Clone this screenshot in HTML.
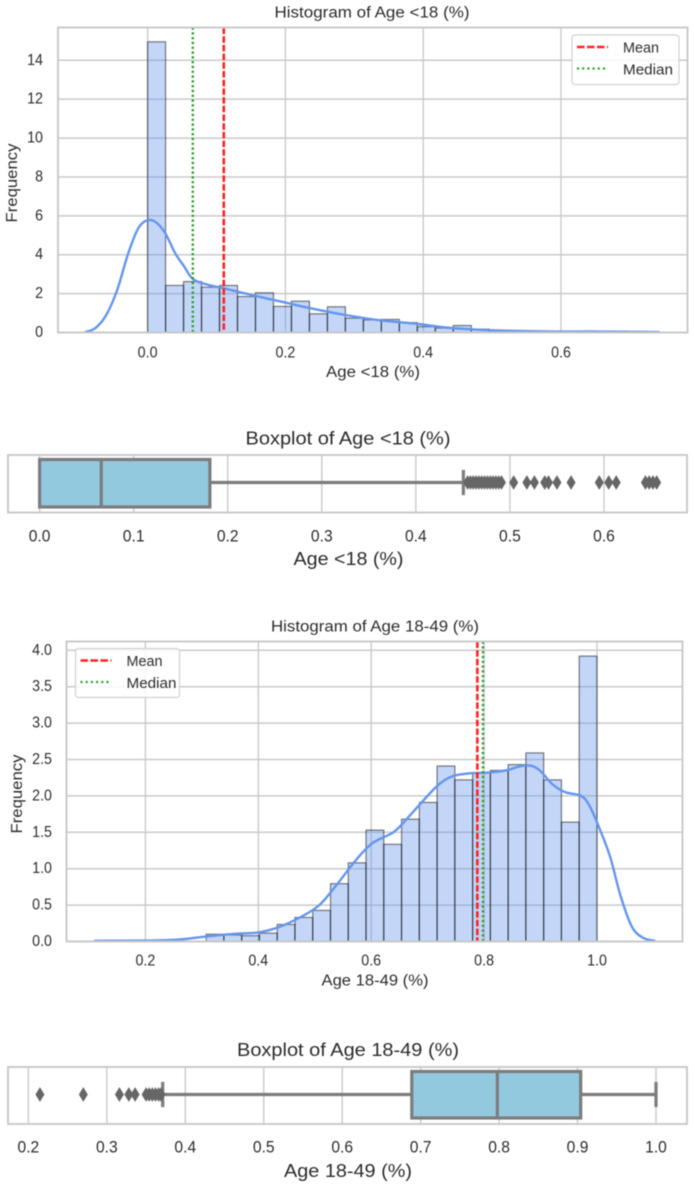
<!DOCTYPE html>
<html lang="en">
<head>
<meta charset="utf-8">
<title>Age distribution charts</title>
<style>
html,body{margin:0;padding:0;background:#fff;}
svg{display:block;filter:blur(0.6px);font-family:"Liberation Sans",sans-serif;}
text{fill:#2b2b2b;}
</style>
</head>
<body>
<svg id="figure" xmlns="http://www.w3.org/2000/svg" width="694" height="1184" viewBox="0 0 694 1184"></svg>
<script>
// ---------- Histogram of Age <18 (%) ----------
const hist1Heights = [14.95,2.42,2.62,2.33,2.42,1.85,2.04,1.34,1.61,0.96,1.32,0.74,0.65,0.67,0.51,0.30,0.23,0.36,0.17,0.05,0.03,0.05,0.04,0.03,0.05];
const hist1BinStart = 0.0;
const hist1BinWidth = 0.0261;
const hist1KdeX = [-0.0907,-0.076,-0.06,-0.044,-0.028,-0.012,0.006,0.024,0.04,0.053,0.066,0.088,0.11,0.14,0.172,0.2,0.236,0.287,0.339,0.39,0.429,0.467,0.513,0.59,0.654,0.743];
const hist1KdeY = [0.02,0.22,0.9,2.2,4.08,5.45,5.78,5.2,4.08,3.4,2.74,2.45,2.28,2.02,1.76,1.54,1.25,0.9,0.62,0.45,0.27,0.17,0.1,0.05,0.05,0.02];
const hist1XTicks = [0.0,0.2,0.4,0.6];
const hist1XTickLabels = ["0.0","0.2","0.4","0.6"];
const hist1YTicks = [0,2,4,6,8,10,12,14];
const hist1YTickLabels = ["0","2","4","6","8","10","12","14"];
const hist1Mean = 0.1106;
const hist1Median = 0.0656;

// ---------- Boxplot of Age <18 (%) ----------
const box1Stats = [0.0,0.0655,0.181,0.0,0.4505];
const box1Outliers = [0.455,0.458,0.461,0.464,0.467,0.470,0.473,0.476,0.479,0.482,0.485,0.488,0.491,0.504,0.518,0.526,0.537,0.541,0.55,0.565,0.595,0.605,0.613,0.644,0.648,0.652,0.656];
const box1Ticks = [0.0,0.1,0.2,0.3,0.4,0.5,0.6];
const box1TickLabels = ["0.0","0.1","0.2","0.3","0.4","0.5","0.6"];

// ---------- Histogram of Age 18-49 (%) ----------
const hist2Heights = [0.10,0.09,0.08,0.115,0.234,0.33,0.427,0.794,1.08,1.53,1.335,1.68,1.91,2.41,2.22,2.32,2.35,2.43,2.59,2.22,1.64,3.92];
const hist2BinStart = 0.3076;
const hist2BinWidth = 0.03147;
const hist2KdeX = [0.109,0.2,0.256,0.303,0.358,0.4,0.437,0.476,0.508,0.539,0.571,0.602,0.641,0.673,0.716,0.744,0.775,0.807,0.838,0.874,0.897,0.921,0.944,0.972,0.987,1.003,1.023,1.042,1.062,1.082,1.103];
const hist2KdeY = [0.01,0.012,0.025,0.065,0.105,0.125,0.2,0.34,0.5,0.78,1.1,1.35,1.51,1.77,2.13,2.27,2.31,2.32,2.35,2.42,2.36,2.16,2.05,2.0,1.86,1.58,1.17,0.62,0.2,0.05,0.01];
const hist2XTicks = [0.2,0.4,0.6,0.8,1.0];
const hist2XTickLabels = ["0.2","0.4","0.6","0.8","1.0"];
const hist2YTicks = [0,0.5,1,1.5,2,2.5,3,3.5,4];
const hist2YTickLabels = ["0.0","0.5","1.0","1.5","2.0","2.5","3.0","3.5","4.0"];
const hist2Mean = 0.788;
const hist2Median = 0.798;

// ---------- Boxplot of Age 18-49 (%) ----------
const box2Stats = [0.6887,0.7978,0.904,0.3712,1.0];
const box2Outliers = [0.2147,0.27,0.316,0.328,0.336,0.35,0.354,0.358,0.362,0.366,0.369];
const box2Ticks = [0.2,0.3,0.4,0.5,0.6,0.7,0.8,0.9,1.0];
const box2TickLabels = ["0.2","0.3","0.4","0.5","0.6","0.7","0.8","0.9","1.0"];

const NS = "http://www.w3.org/2000/svg";
const root = document.getElementById("figure");

function scale(d0, r0, d1, r1) {
  return function (v) { return r0 + (v - d0) * (r1 - r0) / (d1 - d0); };
}
function make(parent, tag, props) {
  const el = document.createElementNS(NS, tag);
  for (const k in props) el.setAttribute(k, props[k]);
  parent.appendChild(el);
  return el;
}
function label(parent, x, y, str, size, anchor, len) {
  const props = { x: x, y: y, "font-size": size, "text-anchor": anchor, "dominant-baseline": "central" };
  const t = make(parent, "text", props);
  t.textContent = str;
  const target = len || t.getComputedTextLength() * 0.92;
  t.setAttribute("textLength", target);
  t.setAttribute("lengthAdjust", "spacingAndGlyphs");
  return t;
}
function smoothPath(xs, ys) {
  let d = "M" + xs[0].toFixed(2) + " " + ys[0].toFixed(2);
  for (let i = 0; i < xs.length - 1; i++) {
    const a = Math.max(i - 1, 0), b = Math.min(i + 2, xs.length - 1);
    const c1x = xs[i] + (xs[i + 1] - xs[a]) / 6, c1y = ys[i] + (ys[i + 1] - ys[a]) / 6;
    const c2x = xs[i + 1] - (xs[b] - xs[i]) / 6, c2y = ys[i + 1] - (ys[b] - ys[i]) / 6;
    d += "C" + c1x.toFixed(2) + " " + c1y.toFixed(2) + " " + c2x.toFixed(2) + " " + c2y.toFixed(2) + " " + xs[i + 1].toFixed(2) + " " + ys[i + 1].toFixed(2);
  }
  return d;
}

function drawHistogram(o) {
  const g = make(root, "g", {});
  
  
  const f = o.frame;

  for (let i = 0; i < o.xTicks.length; i++) {
    const px = o.x(o.xTicks[i]);
    const l = make(g, "line", { x1: px, x2: px, y1: f.top, y2: f.bottom, stroke: "#cacaca", "stroke-width": 1.4 });
    
    
    const t = label(g, px, o.xTickY, o.xTickLabels[i], 15.5, "middle");
    
    
  }
  for (let i = 0; i < o.yTicks.length; i++) {
    const py = o.y(o.yTicks[i]);
    const l = make(g, "line", { x1: f.left, x2: f.right, y1: py, y2: py, stroke: "#cacaca", "stroke-width": 1.5 });
    
    
    const t = label(g, o.yTickRight, py, o.yTickLabels[i], 15.5, "end");
    
    
  }
  for (let i = 0; i < o.heights.length; i++) {
    const x0 = o.x(o.binStart + i * o.binWidth), x1 = o.x(o.binStart + (i + 1) * o.binWidth);
    const yT = o.y(o.heights[i]), yB = o.y(0);
    const r = make(g, "rect", { x: x0, y: yT, width: x1 - x0, height: yB - yT, fill: "#6495ed", "fill-opacity": 0.39, stroke: "#000", "stroke-opacity": 0.5, "stroke-width": 1.2 });
    
    
  }
  const kde = make(g, "path", { d: smoothPath(o.kdeX.map(o.x), o.kdeY.map(o.y)), fill: "none", stroke: "#6495ed", "stroke-width": 2.4 });
  
  

  const mean = make(g, "line", { x1: o.x(o.mean), x2: o.x(o.mean), y1: f.top, y2: f.bottom, stroke: "#ff2222", "stroke-width": 2.6, "stroke-dasharray": "6.5 2.2" });
  
  
  const median = make(g, "line", { x1: o.x(o.median), x2: o.x(o.median), y1: f.top, y2: f.bottom, stroke: "#22a022", "stroke-width": 2.4, "stroke-dasharray": "2.2 2.6" });
  
  

  const frame = make(g, "rect", { x: f.left, y: f.top, width: f.right - f.left, height: f.bottom - f.top, fill: "none", stroke: "#c8c8c8", "stroke-width": 1.9 });
  
  

  const title = label(g, o.titleX, o.titleY, o.title, 15.5, "middle", o.titleLen);
  
  
  const xt = label(g, o.xLabelX, o.xLabelY, o.xLabel, 15.5, "middle", o.xLabelLen);
  
  
  const yt = label(g, 0, 0, "Frequency", 15.5, "middle", 79);
  yt.setAttribute("transform", "translate(" + o.yLabelX + " " + o.yLabelY + ") rotate(-90)");
  
  

  const L = o.legend;
  const lg = make(g, "g", {});
  
  
  const bg = make(lg, "rect", { x: L.x, y: L.y, width: L.w, height: L.h, rx: 3, fill: "#fff", "fill-opacity": 0.8, stroke: "#d0d0d0", "stroke-width": 1.2 });
  
  
  const s1 = make(lg, "line", { x1: L.x + 5, x2: L.x + 36, y1: L.y + 12, y2: L.y + 12, stroke: "#ff2222", "stroke-width": 2.4, "stroke-dasharray": "7.5 2.5" });
  
  
  const t1 = label(lg, L.x + 51, L.y + 13, "Mean", 15, "start", 36);
  
  
  const s2 = make(lg, "line", { x1: L.x + 5, x2: L.x + 36, y1: L.y + 33.5, y2: L.y + 33.5, stroke: "#22a022", "stroke-width": 2.2, "stroke-dasharray": "2 3.2" });
  
  
  const t2 = label(lg, L.x + 51, L.y + 35, "Median", 15, "start", 50);
  
  
}

function drawBoxplot(o) {
  const g = make(root, "g", {});
  
  
  const f = o.frame;
  const GRAY = "#7c7c7c";
  for (let i = 0; i < o.ticks.length; i++) {
    const px = o.x(o.ticks[i]);
    const l = make(g, "line", { x1: px, x2: px, y1: f.top, y2: f.bottom, stroke: "#cacaca", "stroke-width": 1.4 });
    
    
    const t = label(g, px, o.tickY, o.tickLabels[i], 17, "middle");
    
    
  }
  const frame = make(g, "rect", { x: f.left, y: f.top, width: f.right - f.left, height: f.bottom - f.top, fill: "none", stroke: "#c8c8c8", "stroke-width": 1.9 });
  
  

  const q1 = o.x(o.stats[0]), med = o.x(o.stats[1]), q3 = o.x(o.stats[2]), lo = o.x(o.stats[3]), hi = o.x(o.stats[4]);
  const w1 = make(g, "line", { x1: lo, x2: q1, y1: o.midY, y2: o.midY, stroke: GRAY, "stroke-width": 3.2 });
  
  
  const w2 = make(g, "line", { x1: q3, x2: hi, y1: o.midY, y2: o.midY, stroke: GRAY, "stroke-width": 3.2 });
  
  
  const c1 = make(g, "line", { x1: lo, x2: lo, y1: o.midY - o.capH, y2: o.midY + o.capH, stroke: GRAY, "stroke-width": 3.2 });
  
  
  const c2 = make(g, "line", { x1: hi, x2: hi, y1: o.midY - o.capH, y2: o.midY + o.capH, stroke: GRAY, "stroke-width": 3.2 });
  
  
  const box = make(g, "rect", { x: q1, y: o.boxTop, width: q3 - q1, height: o.boxBottom - o.boxTop, fill: "#93c9df", stroke: GRAY, "stroke-width": 3.2 });
  
  
  const m = make(g, "line", { x1: med, x2: med, y1: o.boxTop, y2: o.boxBottom, stroke: GRAY, "stroke-width": 3.2 });
  
  
  for (const v of o.outliers) {
    const px = o.x(v);
    const pts = [[px, o.midY - 7.4], [px + 4.5, o.midY], [px, o.midY + 7.4], [px - 4.5, o.midY]].map(function (p) { return p.join(","); }).join(" ");
    const d = make(g, "polygon", { points: pts, fill: "#666666" });
    
    
  }
  const title = label(g, o.titleX, o.titleY, o.title, 18, "middle", o.titleLen);
  
  
  const xt = label(g, o.xLabelX, o.xLabelY, o.xLabel, 18.5, "middle", o.xLabelLen);
  
  
}

drawHistogram({
  key: "age-under-18",
  frame: { left: 58, right: 687.5, top: 27.5, bottom: 332.5 },
  x: scale(0, 147.6, 0.6, 561), y: scale(0, 332.5, 14, 60.3),
  heights: hist1Heights, binStart: hist1BinStart, binWidth: hist1BinWidth,
  kdeX: hist1KdeX, kdeY: hist1KdeY,
  xTicks: hist1XTicks, xTickLabels: hist1XTickLabels,
  yTicks: hist1YTicks, yTickLabels: hist1YTickLabels,
  mean: hist1Mean, median: hist1Median,
  xTickY: 353, yTickRight: 43,
  title: "Histogram of Age <18 (%)", titleX: 372, titleY: 13, titleLen: 195,
  xLabel: "Age <18 (%)", xLabelX: 373, xLabelY: 372.5, xLabelLen: 94,
  yLabelX: 12.5, yLabelY: 183,
  legend: { x: 572, y: 35, w: 107, h: 49.5 }
});
drawBoxplot({
  key: "age-under-18",
  frame: { left: 8, right: 687, top: 455, bottom: 512.5 },
  x: scale(0, 39.6, 0.6, 604),
  stats: box1Stats, outliers: box1Outliers, ticks: box1Ticks, tickLabels: box1TickLabels,
  tickY: 536, midY: 482.5, capH: 12.6, boxTop: 459.5, boxBottom: 507,
  title: "Boxplot of Age <18 (%)", titleX: 348, titleY: 438.5, titleLen: 205,
  xLabel: "Age <18 (%)", xLabelX: 348.5, xLabelY: 558.5, xLabelLen: 110
});
drawHistogram({
  key: "age-18-49",
  frame: { left: 66.5, right: 682.5, top: 641.5, bottom: 941.5 },
  x: scale(0.2, 145.4, 1.0, 597), y: scale(0, 941.5, 4, 650.3),
  heights: hist2Heights, binStart: hist2BinStart, binWidth: hist2BinWidth,
  kdeX: hist2KdeX, kdeY: hist2KdeY,
  xTicks: hist2XTicks, xTickLabels: hist2XTickLabels,
  yTicks: hist2YTicks, yTickLabels: hist2YTickLabels,
  mean: hist2Mean, median: hist2Median,
  xTickY: 961, yTickRight: 52,
  title: "Histogram of Age 18-49 (%)", titleX: 375, titleY: 627, titleLen: 208,
  xLabel: "Age 18-49 (%)", xLabelX: 375, xLabelY: 981, xLabelLen: 107,
  yLabelX: 17.5, yLabelY: 794,
  legend: { x: 75.5, y: 648.5, w: 104, h: 49 }
});
drawBoxplot({
  key: "age-18-49",
  frame: { left: 8, right: 687, top: 1067, bottom: 1124 },
  x: scale(0.2, 28.4, 1.0, 656),
  stats: box2Stats, outliers: box2Outliers, ticks: box2Ticks, tickLabels: box2TickLabels,
  tickY: 1147, midY: 1094.5, capH: 12.6, boxTop: 1071.5, boxBottom: 1118,
  title: "Boxplot of Age 18-49 (%)", titleX: 348, titleY: 1050, titleLen: 222,
  xLabel: "Age 18-49 (%)", xLabelX: 348, xLabelY: 1170.5, xLabelLen: 128
});
</script>
</body>
</html>
